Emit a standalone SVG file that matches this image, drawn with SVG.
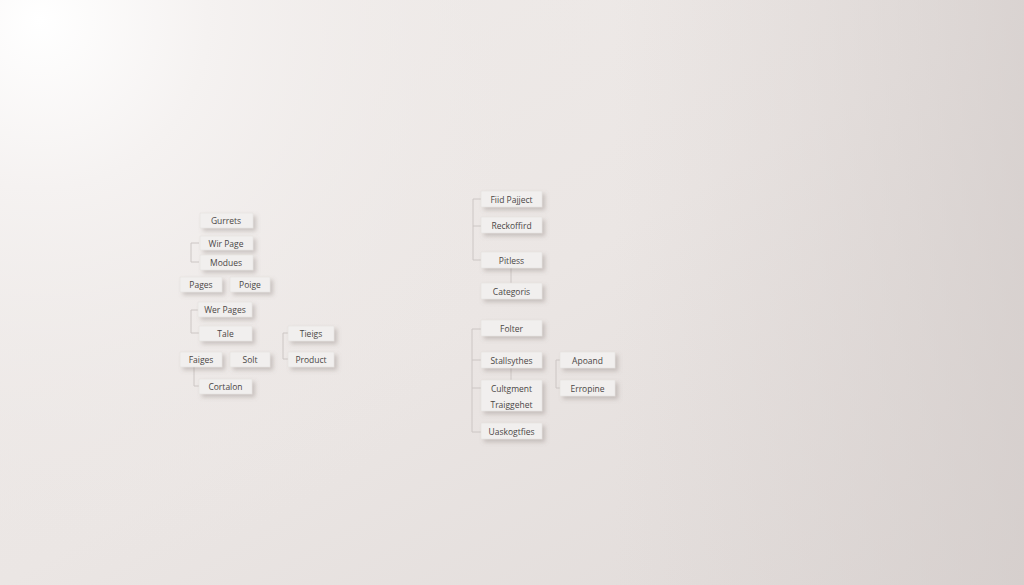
<svg xmlns="http://www.w3.org/2000/svg" width="1024" height="585" viewBox="0 0 1024 585">
<defs>
<radialGradient id="glow" cx="40" cy="20" r="560" gradientUnits="userSpaceOnUse">
<stop offset="0" stop-color="#ffffff"/>
<stop offset="0.3" stop-color="#f5f2f1"/>
<stop offset="1" stop-color="#ebe6e4" stop-opacity="0"/>
</radialGradient>
<linearGradient id="bg" x1="0" y1="0" x2="1" y2="1">
<stop offset="0" stop-color="#f0ecea"/>
<stop offset="0.5" stop-color="#ebe6e4"/>
<stop offset="1" stop-color="#dfd9d7"/>
</linearGradient>
<linearGradient id="rt" x1="0" y1="0" x2="1" y2="0">
<stop offset="0.6" stop-color="#d8d1cf" stop-opacity="0"/>
<stop offset="1" stop-color="#d2cbc9" stop-opacity="0.7"/>
</linearGradient>
<filter id="sh" x="-30%" y="-40%" width="170%" height="200%">
<feDropShadow dx="3" dy="3" stdDeviation="2.2" flood-color="#7a706c" flood-opacity="0.32"/>
</filter>
</defs>
<style>
.b{fill:#f1efee;stroke:#e2dedc;stroke-width:0.5;filter:url(#sh)}
.t{font-family:"Open Sans","Liberation Sans",sans-serif;font-size:8.5px;fill:#4a4645;text-anchor:middle;dominant-baseline:central}
.c{fill:none;stroke:#ccc6c4;stroke-width:1}
</style>
<rect width="1024" height="585" fill="url(#bg)"/>
<rect width="1024" height="585" fill="url(#rt)"/>
<rect width="1024" height="585" fill="url(#glow)"/>
<g id="connectors">
<path class="c" d="M199 243H191V262H199"/>
<path class="c" d="M199 310H191V333H199"/>
<path class="c" d="M288 333H283V359H288"/>
<path class="c" d="M194 367V386H199"/>
<path class="c" d="M481 199H473V260H481M473 226H481"/>
<path class="c" d="M511 268V283"/>
<path class="c" d="M481 329H472V432H481M472 360H481M472 388H481"/>
<path class="c" d="M560 360H556V388H560"/>
<path class="c" d="M511 368V380"/>
</g>
<g id="n-gurrets"><rect class="b" x="200" y="213" width="53" height="15"/><text class="t" x="226" y="220.5">Gurrets</text></g>
<g id="n-wirpage"><rect class="b" x="200" y="236" width="53" height="14"/><text class="t" x="226" y="243">Wir Page</text></g>
<g id="n-modues"><rect class="b" x="200" y="255" width="53" height="15"/><text class="t" x="226" y="262.5">Modues</text></g>
<g id="n-pages"><rect class="b" x="180" y="277" width="42" height="15"/><text class="t" x="201" y="284.5">Pages</text></g>
<g id="n-poige"><rect class="b" x="230" y="277" width="40" height="15"/><text class="t" x="250" y="284.5">Poige</text></g>
<g id="n-werpages"><rect class="b" x="198" y="302" width="54" height="15"/><text class="t" x="225" y="309.5">Wer Pages</text></g>
<g id="n-tale"><rect class="b" x="199" y="326" width="53" height="15"/><text class="t" x="225.5" y="333.5">Tale</text></g>
<g id="n-tieigs"><rect class="b" x="288" y="326" width="46" height="15"/><text class="t" x="311" y="333.5">Tieigs</text></g>
<g id="n-faiges"><rect class="b" x="180" y="352" width="42" height="15"/><text class="t" x="201" y="359.5">Faiges</text></g>
<g id="n-solt"><rect class="b" x="230" y="352" width="40" height="15"/><text class="t" x="250" y="359.5">Solt</text></g>
<g id="n-product"><rect class="b" x="288" y="352" width="46" height="15"/><text class="t" x="311" y="359.5">Product</text></g>
<g id="n-cortalon"><rect class="b" x="199" y="379" width="53" height="15"/><text class="t" x="225.5" y="386.5">Cortalon</text></g>
<g id="n-fiid"><rect class="b" x="481" y="191" width="61" height="16"/><text class="t" x="511.5" y="199">Fiid Pajject</text></g>
<g id="n-reckoffird"><rect class="b" x="481" y="217" width="61" height="16"/><text class="t" x="511.5" y="225">Reckoffird</text></g>
<g id="n-pitless"><rect class="b" x="481" y="252" width="61" height="16"/><text class="t" x="511.5" y="260">Pitless</text></g>
<g id="n-categoris"><rect class="b" x="481" y="283" width="61" height="16"/><text class="t" x="511.5" y="291">Categoris</text></g>
<g id="n-folter"><rect class="b" x="481" y="320" width="61" height="16"/><text class="t" x="511.5" y="328">Folter</text></g>
<g id="n-stallsythes"><rect class="b" x="481" y="352" width="61" height="16"/><text class="t" x="511.5" y="360">Stallsythes</text></g>
<g id="n-cultgment"><rect class="b" x="481" y="380" width="61" height="31"/><text class="t" x="511.5" y="388">Cultgment</text><text class="t" x="511.5" y="404">Traiggehet</text></g>
<g id="n-uaskogtfies"><rect class="b" x="481" y="423" width="61" height="16"/><text class="t" x="511.5" y="431">Uaskogtfies</text></g>
<g id="n-apoand"><rect class="b" x="560" y="352" width="55" height="16"/><text class="t" x="587.5" y="360">Apoand</text></g>
<g id="n-erropine"><rect class="b" x="560" y="380" width="55" height="16"/><text class="t" x="587.5" y="388">Erropine</text></g>
</svg>
